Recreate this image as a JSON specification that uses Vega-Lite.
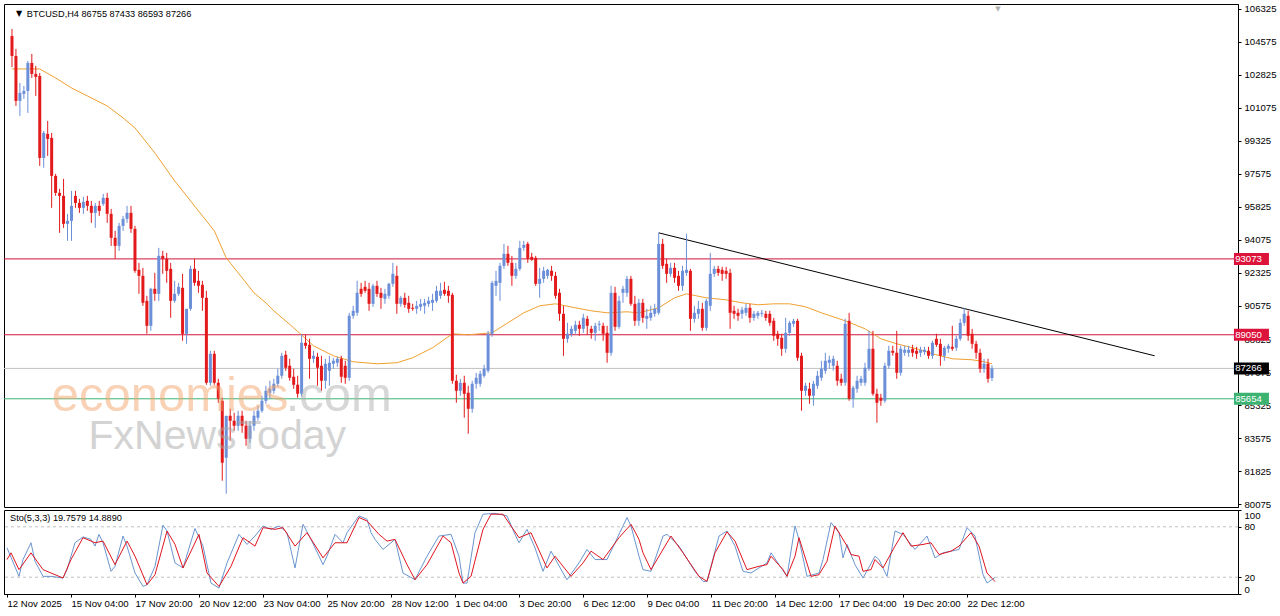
{
"$schema":"https://vega.github.io/schema/vega-lite/v6.json",
"background":"white",
"padding":{"left":3,"top":3,"right":0,"bottom":0},
"bounds":"flush",
"config":{"view":{"stroke":"#000","strokeWidth":1},"concat":{"spacing":3},
"axis":{"labelFont":"Liberation Sans","labelFontSize":9.6,"labelColor":"#000","domainColor":"#000","tickColor":"#000","grid":false,"title":null,"tickSize":3,"labelPadding":2,"labelOverlap":false},
"text":{"font":"Liberation Sans"}},
"datasets":{
"levels":[{"price":93073,"kind":"res"},{"price":89050,"kind":"res"},{"price":87266,"kind":"last"},{"price":85654,"kind":"sup"}],
"trend":[{"i":163,"p":94454},{"i":288,"p":87935}],
"ma":[{"i":0,"p":103146},{"i":7,"p":103146},{"i":11,"p":102669},{"i":15,"p":102139},{"i":19,"p":101715},{"i":24,"p":101185},{"i":28,"p":100549},{"i":31,"p":100019},{"i":36,"p":98694},{"i":41,"p":97210},{"i":47,"p":95620},{"i":51,"p":94560},{"i":54,"p":93129},{"i":58,"p":92069},{"i":61,"p":91274},{"i":64,"p":90744},{"i":66,"p":90320},{"i":71,"p":89419},{"i":76,"p":88465},{"i":81,"p":87935},{"i":86,"p":87617},{"i":92,"p":87511},{"i":97,"p":87564},{"i":101,"p":87829},{"i":106,"p":88359},{"i":111,"p":89101},{"i":115,"p":89048},{"i":121,"p":89154},{"i":125,"p":89684},{"i":129,"p":90214},{"i":133,"p":90585},{"i":137,"p":90691},{"i":142,"p":90479},{"i":146,"p":90320},{"i":150,"p":90214},{"i":155,"p":90267},{"i":158,"p":90214},{"i":163,"p":90479},{"i":167,"p":91009},{"i":170,"p":91221},{"i":175,"p":91009},{"i":180,"p":90903},{"i":184,"p":90744},{"i":188,"p":90638},{"i":192,"p":90691},{"i":196,"p":90691},{"i":200,"p":90532},{"i":204,"p":90214},{"i":210,"p":89790},{"i":215,"p":89366},{"i":219,"p":88836},{"i":223,"p":88571},{"i":228,"p":88306},{"i":232,"p":88041},{"i":237,"p":87776},{"i":242,"p":87723},{"i":245,"p":87617},{"i":247,"p":87511}],
"candles":[
{"i":0,"o":104895,"h":105266,"l":103252,"c":103835},{"i":1,"o":103835,"h":104206,"l":101185,"c":101450},{"i":2,"o":101450,"h":102404,"l":100655,"c":101874},{"i":3,"o":101821,"h":102245,"l":101556,"c":101980},{"i":4,"o":101980,"h":103570,"l":100814,"c":103464},{"i":5,"o":103464,"h":103941,"l":102669,"c":102881},{"i":6,"o":102881,"h":103305,"l":101715,"c":102722},{"i":7,"o":102775,"h":102934,"l":98005,"c":98429},{"i":8,"o":98429,"h":99860,"l":97899,"c":99754},{"i":9,"o":99701,"h":100390,"l":98535,"c":99436},
{"i":10,"o":99489,"h":99754,"l":95779,"c":97475},{"i":11,"o":97475,"h":97581,"l":96415,"c":96574},{"i":12,"o":96574,"h":96786,"l":94454,"c":96415},{"i":13,"o":96415,"h":97316,"l":94719,"c":94931},{"i":14,"o":94931,"h":95461,"l":94030,"c":95090},{"i":15,"o":95090,"h":96680,"l":94030,"c":95885},{"i":16,"o":96415,"h":96680,"l":95779,"c":96044},{"i":17,"o":96044,"h":96256,"l":95514,"c":95779},{"i":18,"o":95779,"h":96362,"l":95461,"c":96097},{"i":19,"o":96150,"h":96415,"l":95620,"c":95885},
{"i":20,"o":95885,"h":96150,"l":94984,"c":95514},{"i":21,"o":95514,"h":96044,"l":94719,"c":95885},{"i":22,"o":95885,"h":96150,"l":95355,"c":95620},{"i":23,"o":95991,"h":96521,"l":95885,"c":96309},{"i":24,"o":96309,"h":96574,"l":94984,"c":95461},{"i":25,"o":95461,"h":95726,"l":93765,"c":94189},{"i":26,"o":94189,"h":94560,"l":93076,"c":93765},{"i":27,"o":93765,"h":94984,"l":93500,"c":94825},{"i":28,"o":94825,"h":95355,"l":94560,"c":95196},{"i":29,"o":95196,"h":95885,"l":94984,"c":95514},
{"i":30,"o":95514,"h":95885,"l":94454,"c":94666},{"i":31,"o":94666,"h":94825,"l":92334,"c":92440},{"i":32,"o":92493,"h":92864,"l":91221,"c":92175},{"i":33,"o":92175,"h":92599,"l":90585,"c":90744},{"i":34,"o":90850,"h":91115,"l":89101,"c":89525},{"i":35,"o":89525,"h":91539,"l":89260,"c":91486},{"i":36,"o":91486,"h":92334,"l":90850,"c":91221},{"i":37,"o":91221,"h":93659,"l":90850,"c":93235},{"i":38,"o":93235,"h":93500,"l":92281,"c":93076},{"i":39,"o":93076,"h":93394,"l":91804,"c":92440},
{"i":40,"o":92546,"h":92864,"l":89949,"c":90850},{"i":41,"o":90850,"h":91910,"l":90744,"c":91221},{"i":42,"o":91221,"h":91804,"l":91115,"c":91592},{"i":43,"o":91539,"h":92281,"l":88730,"c":89101},{"i":44,"o":89101,"h":89896,"l":88571,"c":90426},{"i":45,"o":90426,"h":92705,"l":90320,"c":92546},{"i":46,"o":92546,"h":93076,"l":91645,"c":91804},{"i":47,"o":91910,"h":92440,"l":91274,"c":91645},{"i":48,"o":91698,"h":91910,"l":90320,"c":91009},{"i":49,"o":91009,"h":91380,"l":86398,"c":86504},
{"i":50,"o":86504,"h":88200,"l":86345,"c":88041},{"i":51,"o":88041,"h":88200,"l":86398,"c":86504},{"i":52,"o":86504,"h":86716,"l":85444,"c":85656},{"i":53,"o":85550,"h":85709,"l":81310,"c":82264},{"i":54,"o":82529,"h":82635,"l":80621,"c":84755},{"i":55,"o":84755,"h":85126,"l":83430,"c":84490},{"i":56,"o":84490,"h":84914,"l":83960,"c":84225},{"i":57,"o":84225,"h":85020,"l":83960,"c":84755},{"i":58,"o":84755,"h":85020,"l":83854,"c":84225},{"i":59,"o":84225,"h":84490,"l":83165,"c":83536},
{"i":60,"o":83536,"h":84490,"l":83324,"c":84225},{"i":61,"o":84225,"h":85020,"l":83960,"c":84755},{"i":62,"o":84649,"h":85285,"l":84490,"c":85020},{"i":63,"o":85020,"h":85815,"l":84914,"c":85550},{"i":64,"o":85550,"h":86345,"l":85391,"c":86080},{"i":65,"o":85974,"h":86610,"l":85656,"c":86186},{"i":66,"o":86080,"h":86716,"l":85921,"c":86451},{"i":67,"o":86451,"h":87246,"l":86292,"c":86875},{"i":68,"o":86875,"h":88094,"l":86716,"c":87935},{"i":69,"o":87988,"h":88200,"l":87140,"c":87299},
{"i":70,"o":87405,"h":87776,"l":86610,"c":86769},{"i":71,"o":86822,"h":87246,"l":86186,"c":86398},{"i":72,"o":86398,"h":86875,"l":85709,"c":85921},{"i":73,"o":85921,"h":89101,"l":85762,"c":88624},{"i":74,"o":88624,"h":89048,"l":88306,"c":88465},{"i":75,"o":88518,"h":88836,"l":86716,"c":87776},{"i":76,"o":87776,"h":88200,"l":87564,"c":87935},{"i":77,"o":87882,"h":88094,"l":86345,"c":87299},{"i":78,"o":87405,"h":87935,"l":86080,"c":86610},{"i":79,"o":86610,"h":87776,"l":86186,"c":87511},
{"i":80,"o":87140,"h":87935,"l":86345,"c":87564},{"i":81,"o":87511,"h":87829,"l":87246,"c":87670},{"i":82,"o":87564,"h":87882,"l":87352,"c":87776},{"i":83,"o":87776,"h":87935,"l":86504,"c":86822},{"i":84,"o":87405,"h":87670,"l":86451,"c":86769},{"i":85,"o":86769,"h":90214,"l":86610,"c":90055},{"i":86,"o":90055,"h":90585,"l":89896,"c":90320},{"i":87,"o":90214,"h":91910,"l":90055,"c":91274},{"i":88,"o":91486,"h":91804,"l":91062,"c":91221},{"i":89,"o":91592,"h":91910,"l":91274,"c":91380},
{"i":90,"o":91486,"h":91804,"l":90320,"c":90691},{"i":91,"o":90691,"h":91751,"l":90532,"c":91645},{"i":92,"o":91645,"h":91910,"l":91062,"c":91221},{"i":93,"o":91274,"h":91539,"l":90426,"c":91009},{"i":94,"o":90956,"h":91486,"l":90691,"c":91221},{"i":95,"o":91115,"h":91804,"l":90956,"c":91751},{"i":96,"o":91751,"h":92864,"l":91592,"c":92281},{"i":97,"o":92175,"h":92705,"l":90161,"c":90691},{"i":98,"o":90691,"h":91115,"l":90532,"c":91009},{"i":99,"o":91009,"h":91274,"l":90479,"c":90638},
{"i":100,"o":90744,"h":91115,"l":90214,"c":90426},{"i":101,"o":90479,"h":90691,"l":90320,"c":90426},{"i":102,"o":90426,"h":90850,"l":90161,"c":90585},{"i":103,"o":90532,"h":90956,"l":90320,"c":90691},{"i":104,"o":90585,"h":90956,"l":90161,"c":90744},{"i":105,"o":90691,"h":91062,"l":90532,"c":90850},{"i":106,"o":90744,"h":91221,"l":90320,"c":90903},{"i":107,"o":90850,"h":91645,"l":90744,"c":91380},{"i":108,"o":91115,"h":91804,"l":90956,"c":91380},{"i":109,"o":91433,"h":91857,"l":91115,"c":91221},
{"i":110,"o":91380,"h":91645,"l":90744,"c":91115},{"i":111,"o":91168,"h":91274,"l":86451,"c":86610},{"i":112,"o":86610,"h":86928,"l":85444,"c":86080},{"i":113,"o":86080,"h":86716,"l":85815,"c":86504},{"i":114,"o":86504,"h":86875,"l":84649,"c":85921},{"i":115,"o":85974,"h":86345,"l":83801,"c":85126},{"i":116,"o":85126,"h":86610,"l":84914,"c":86451},{"i":117,"o":86451,"h":87034,"l":86186,"c":86769},{"i":118,"o":86451,"h":87140,"l":86292,"c":86981},{"i":119,"o":86875,"h":87458,"l":86769,"c":87246},
{"i":120,"o":87140,"h":89260,"l":87034,"c":89101},{"i":121,"o":89101,"h":91910,"l":88942,"c":91804},{"i":122,"o":91645,"h":92440,"l":91115,"c":91910},{"i":123,"o":91804,"h":92864,"l":90850,"c":92705},{"i":124,"o":92705,"h":93871,"l":92546,"c":93341},{"i":125,"o":93341,"h":93765,"l":92705,"c":92864},{"i":126,"o":92864,"h":93235,"l":91645,"c":92175},{"i":127,"o":92175,"h":92864,"l":92016,"c":92546},{"i":128,"o":92546,"h":94030,"l":92440,"c":93659},{"i":129,"o":93659,"h":94030,"l":93500,"c":93818},
{"i":130,"o":93871,"h":93977,"l":92864,"c":93076},{"i":131,"o":93182,"h":93394,"l":92970,"c":93023},{"i":132,"o":93129,"h":93235,"l":91645,"c":91751},{"i":133,"o":91751,"h":92599,"l":91009,"c":92016},{"i":134,"o":92016,"h":92652,"l":91804,"c":92440},{"i":135,"o":92175,"h":92546,"l":92016,"c":92493},{"i":136,"o":92440,"h":92705,"l":91910,"c":92175},{"i":137,"o":92175,"h":92387,"l":90956,"c":91115},{"i":138,"o":91274,"h":91486,"l":89790,"c":90161},{"i":139,"o":90161,"h":90585,"l":87935,"c":88836},
{"i":140,"o":88836,"h":89684,"l":88624,"c":89101},{"i":141,"o":89101,"h":89525,"l":88942,"c":89366},{"i":142,"o":89260,"h":89790,"l":89101,"c":89578},{"i":143,"o":89578,"h":89790,"l":88995,"c":89366},{"i":144,"o":89366,"h":90161,"l":89154,"c":89949},{"i":145,"o":89896,"h":90055,"l":89048,"c":89525},{"i":146,"o":89366,"h":89525,"l":88836,"c":89154},{"i":147,"o":89154,"h":89684,"l":88730,"c":89525},{"i":148,"o":89578,"h":89790,"l":89260,"c":89631},{"i":149,"o":89525,"h":89684,"l":88730,"c":89101},
{"i":150,"o":89154,"h":89525,"l":87564,"c":88094},{"i":151,"o":88094,"h":91645,"l":87935,"c":91274},{"i":152,"o":91274,"h":91592,"l":89260,"c":89472},{"i":153,"o":89472,"h":91115,"l":89366,"c":90850},{"i":154,"o":91274,"h":91645,"l":90744,"c":91486},{"i":155,"o":91274,"h":92175,"l":91062,"c":92016},{"i":156,"o":92016,"h":92175,"l":90585,"c":90691},{"i":157,"o":90691,"h":91115,"l":89525,"c":89790},{"i":158,"o":89790,"h":90956,"l":89525,"c":90744},{"i":159,"o":90744,"h":90956,"l":89684,"c":89949},
{"i":160,"o":89896,"h":90426,"l":89366,"c":90055},{"i":161,"o":89949,"h":90585,"l":89790,"c":90214},{"i":162,"o":90161,"h":90691,"l":90002,"c":90426},{"i":163,"o":90214,"h":94454,"l":90108,"c":93871},{"i":164,"o":93871,"h":94136,"l":92546,"c":92705},{"i":165,"o":92811,"h":93076,"l":91804,"c":92281},{"i":166,"o":92281,"h":92864,"l":92122,"c":92599},{"i":167,"o":92599,"h":92864,"l":91804,"c":92069},{"i":168,"o":92175,"h":92440,"l":91380,"c":91645},{"i":169,"o":91645,"h":92705,"l":91380,"c":92440},
{"i":170,"o":92334,"h":94401,"l":92175,"c":92493},{"i":171,"o":92440,"h":92546,"l":89260,"c":89896},{"i":172,"o":89896,"h":90585,"l":89684,"c":90214},{"i":173,"o":90161,"h":90850,"l":89896,"c":90426},{"i":174,"o":90426,"h":90744,"l":89260,"c":89419},{"i":175,"o":89419,"h":90956,"l":89260,"c":90850},{"i":176,"o":90585,"h":93394,"l":90320,"c":92281},{"i":177,"o":92281,"h":92705,"l":92122,"c":92546},{"i":178,"o":92546,"h":92705,"l":92175,"c":92334},{"i":179,"o":92493,"h":92652,"l":91910,"c":92281},
{"i":180,"o":92440,"h":92652,"l":92016,"c":92281},{"i":181,"o":92334,"h":92546,"l":89366,"c":90214},{"i":182,"o":90320,"h":90585,"l":89896,"c":90161},{"i":183,"o":90214,"h":90426,"l":89790,"c":90055},{"i":184,"o":90161,"h":90532,"l":89896,"c":90373},{"i":185,"o":90214,"h":90691,"l":90055,"c":90479},{"i":186,"o":90479,"h":90691,"l":89684,"c":89949},{"i":187,"o":89949,"h":90320,"l":89790,"c":90161},{"i":188,"o":90055,"h":90320,"l":89896,"c":90214},{"i":189,"o":90161,"h":90373,"l":90002,"c":90214},
{"i":190,"o":90161,"h":90320,"l":89790,"c":89949},{"i":191,"o":90161,"h":90320,"l":89525,"c":89684},{"i":192,"o":89790,"h":89949,"l":88730,"c":88995},{"i":193,"o":89101,"h":89260,"l":88465,"c":88836},{"i":194,"o":88889,"h":89101,"l":87935,"c":88306},{"i":195,"o":88306,"h":89949,"l":88094,"c":89154},{"i":196,"o":89154,"h":89790,"l":88995,"c":89684},{"i":197,"o":89631,"h":89896,"l":89472,"c":89790},{"i":198,"o":89790,"h":89896,"l":87670,"c":87829},{"i":199,"o":87935,"h":88094,"l":85020,"c":86080},
{"i":200,"o":86080,"h":86504,"l":85815,"c":86345},{"i":201,"o":86186,"h":86504,"l":85391,"c":85815},{"i":202,"o":85815,"h":86610,"l":85285,"c":86451},{"i":203,"o":86345,"h":87140,"l":86186,"c":86875},{"i":204,"o":86769,"h":87670,"l":86610,"c":87246},{"i":205,"o":87140,"h":88094,"l":86981,"c":87670},{"i":206,"o":87564,"h":87935,"l":87246,"c":87723},{"i":207,"o":87405,"h":87935,"l":87140,"c":87776},{"i":208,"o":87405,"h":87670,"l":86345,"c":86610},{"i":209,"o":86716,"h":86981,"l":86345,"c":86504},
{"i":210,"o":86504,"h":89896,"l":86345,"c":89631},{"i":211,"o":89790,"h":90214,"l":85550,"c":85656},{"i":212,"o":85656,"h":86345,"l":85179,"c":86239},{"i":213,"o":86186,"h":86875,"l":85974,"c":86610},{"i":214,"o":86504,"h":86875,"l":86345,"c":86716},{"i":215,"o":86504,"h":87564,"l":86345,"c":87299},{"i":216,"o":87246,"h":89260,"l":87140,"c":88306},{"i":217,"o":88306,"h":89260,"l":85815,"c":85921},{"i":218,"o":85921,"h":86186,"l":84384,"c":85444},{"i":219,"o":85709,"h":85921,"l":85285,"c":85550},
{"i":220,"o":85550,"h":87564,"l":85444,"c":87405},{"i":221,"o":87405,"h":88465,"l":87246,"c":88200},{"i":222,"o":88200,"h":88465,"l":87935,"c":88094},{"i":223,"o":88094,"h":89260,"l":86716,"c":87034},{"i":224,"o":87034,"h":88465,"l":86875,"c":88306},{"i":225,"o":88094,"h":88465,"l":87935,"c":88253},{"i":226,"o":88094,"h":88465,"l":87882,"c":88253},{"i":227,"o":88306,"h":88518,"l":87882,"c":88094},{"i":228,"o":88200,"h":88412,"l":87776,"c":88041},{"i":229,"o":88094,"h":88412,"l":87882,"c":88253},
{"i":230,"o":88147,"h":88412,"l":87988,"c":88253},{"i":231,"o":88200,"h":88412,"l":87776,"c":87935},{"i":232,"o":87935,"h":88730,"l":87776,"c":88624},{"i":233,"o":88836,"h":89101,"l":88412,"c":88518},{"i":234,"o":88571,"h":88836,"l":87405,"c":87935},{"i":235,"o":87935,"h":88465,"l":87670,"c":88359},{"i":236,"o":88306,"h":88571,"l":88094,"c":88465},{"i":237,"o":88412,"h":89525,"l":88200,"c":88306},{"i":238,"o":88359,"h":88995,"l":88200,"c":88836},{"i":239,"o":88836,"h":89896,"l":88730,"c":89684},
{"i":240,"o":89684,"h":90479,"l":89525,"c":90161},{"i":241,"o":90055,"h":90320,"l":88730,"c":88995},{"i":242,"o":89101,"h":89366,"l":88306,"c":88571},{"i":243,"o":88571,"h":88730,"l":87776,"c":88094},{"i":244,"o":88094,"h":88306,"l":87034,"c":87246},{"i":245,"o":87246,"h":87776,"l":87034,"c":87511},{"i":246,"o":87511,"h":87776,"l":86504,"c":86716},{"i":247,"o":86755,"h":87433,"l":86593,"c":87266}],
"stoK":[{"i":0,"v":55},{"i":3,"v":21},{"i":4,"v":41},{"i":6,"v":61},{"i":7,"v":39},{"i":9,"v":21},{"i":11,"v":21},{"i":14,"v":19},{"i":15,"v":29},{"i":17,"v":61},{"i":19,"v":68},{"i":21,"v":65},{"i":22,"v":57},{"i":23,"v":71},{"i":24,"v":61},{"i":26,"v":27},{"i":27,"v":33},{"i":29,"v":69},{"i":30,"v":57},{"i":32,"v":25},{"i":34,"v":9},{"i":35,"v":11},{"i":37,"v":33},{"i":39,"v":82},{"i":40,"v":75},{"i":42,"v":37},{"i":44,"v":31},{"i":47,"v":78},{"i":49,"v":57},{"i":51,"v":13},{"i":53,"v":7},{"i":55,"v":37},{"i":58,"v":71},{"i":60,"v":59},{"i":62,"v":69},{"i":64,"v":81},{"i":66,"v":77},{"i":68,"v":81},{"i":70,"v":73},{"i":72,"v":31},{"i":74,"v":83},{"i":76,"v":65},{"i":79,"v":35},{"i":80,"v":45},{"i":82,"v":71},{"i":84,"v":61},{"i":85,"v":73},{"i":88,"v":93},{"i":90,"v":89},{"i":91,"v":73},{"i":92,"v":65},{"i":94,"v":53},{"i":97,"v":65},{"i":99,"v":25},{"i":102,"v":17},{"i":105,"v":45},{"i":108,"v":69},{"i":111,"v":71},{"i":113,"v":45},{"i":114,"v":13},{"i":115,"v":13},{"i":117,"v":73},{"i":119,"v":95},{"i":122,"v":96},{"i":125,"v":93},{"i":127,"v":71},{"i":128,"v":61},{"i":130,"v":77},{"i":132,"v":55},{"i":134,"v":27},{"i":136,"v":51},{"i":139,"v":25},{"i":140,"v":17},{"i":143,"v":37},{"i":145,"v":53},{"i":147,"v":41},{"i":150,"v":41},{"i":152,"v":61},{"i":155,"v":91},{"i":156,"v":81},{"i":158,"v":45},{"i":159,"v":29},{"i":161,"v":27},{"i":164,"v":69},{"i":165,"v":71},{"i":168,"v":57},{"i":172,"v":27},{"i":174,"v":15},{"i":175,"v":15},{"i":178,"v":69},{"i":180,"v":75},{"i":182,"v":57},{"i":184,"v":27},{"i":186,"v":25},{"i":188,"v":31},{"i":190,"v":37},{"i":191,"v":49},{"i":193,"v":35},{"i":195,"v":21},{"i":197,"v":81},{"i":198,"v":65},{"i":200,"v":21},{"i":203,"v":25},{"i":204,"v":41},{"i":206,"v":85},{"i":208,"v":73},{"i":209,"v":43},{"i":210,"v":59},{"i":212,"v":35},{"i":214,"v":19},{"i":217,"v":45},{"i":218,"v":41},{"i":220,"v":21},{"i":222,"v":75},{"i":224,"v":71},{"i":226,"v":59},{"i":227,"v":53},{"i":230,"v":69},{"i":232,"v":43},{"i":234,"v":49},{"i":236,"v":51},{"i":238,"v":53},{"i":240,"v":79},{"i":242,"v":69},{"i":244,"v":23},{"i":245,"v":13},{"i":247,"v":19.7579}],
"stoD":[{"i":0,"v":41},{"i":1,"v":49},{"i":3,"v":29},{"i":6,"v":49},{"i":9,"v":29},{"i":12,"v":23},{"i":14,"v":19},{"i":16,"v":41},{"i":19,"v":67},{"i":22,"v":61},{"i":24,"v":63},{"i":27,"v":35},{"i":30,"v":63},{"i":32,"v":45},{"i":35,"v":11},{"i":37,"v":23},{"i":40,"v":75},{"i":42,"v":59},{"i":44,"v":31},{"i":48,"v":71},{"i":50,"v":25},{"i":53,"v":9},{"i":56,"v":33},{"i":59,"v":67},{"i":62,"v":57},{"i":64,"v":79},{"i":67,"v":77},{"i":69,"v":79},{"i":72,"v":57},{"i":75,"v":73},{"i":79,"v":43},{"i":82,"v":61},{"i":85,"v":61},{"i":88,"v":91},{"i":90,"v":87},{"i":93,"v":71},{"i":95,"v":63},{"i":97,"v":65},{"i":100,"v":35},{"i":102,"v":17},{"i":105,"v":35},{"i":109,"v":69},{"i":111,"v":61},{"i":113,"v":25},{"i":114,"v":13},{"i":116,"v":21},{"i":119,"v":77},{"i":121,"v":95},{"i":124,"v":95},{"i":128,"v":67},{"i":131,"v":73},{"i":135,"v":31},{"i":137,"v":45},{"i":141,"v":21},{"i":144,"v":37},{"i":146,"v":51},{"i":149,"v":41},{"i":153,"v":67},{"i":156,"v":83},{"i":158,"v":65},{"i":159,"v":49},{"i":161,"v":29},{"i":163,"v":45},{"i":166,"v":69},{"i":169,"v":49},{"i":173,"v":21},{"i":175,"v":15},{"i":177,"v":49},{"i":180,"v":74},{"i":182,"v":63},{"i":185,"v":29},{"i":188,"v":33},{"i":190,"v":35},{"i":191,"v":45},{"i":194,"v":29},{"i":195,"v":21},{"i":197,"v":45},{"i":198,"v":67},{"i":201,"v":21},{"i":203,"v":23},{"i":205,"v":39},{"i":207,"v":81},{"i":210,"v":57},{"i":211,"v":47},{"i":213,"v":45},{"i":214,"v":27},{"i":216,"v":29},{"i":217,"v":41},{"i":219,"v":31},{"i":222,"v":57},{"i":224,"v":73},{"i":226,"v":57},{"i":229,"v":59},{"i":231,"v":61},{"i":233,"v":47},{"i":236,"v":51},{"i":238,"v":57},{"i":241,"v":73},{"i":243,"v":57},{"i":245,"v":25},{"i":247,"v":14.889}],
"stolev":[{"lvl":20},{"lvl":80}]
},
"vconcat":[
{"width":1234,"height":503,
"resolve":{"axis":{"x":"independent","y":"independent"}},
"layer":[
{"data":{"name":"levels"},"mark":{"type":"rule","strokeWidth":1},
 "encoding":{"y":{"field":"price","type":"quantitative","scale":{"domain":[79916,106590],"nice":false,"zero":false},
   "axis":{"orient":"right","values":[80075,81825,83575,85325,87075,88825,90575,92325,94075,95825,97575,99325,101075,102825,104575,106325],"format":"d","labelPadding":3,"labelOverlap":false,"labelBound":false}},
  "color":{"condition":[{"test":"datum.kind==='res'","value":"#d0143c"},{"test":"datum.kind==='sup'","value":"#3cb371"}],"value":"#c0c0c0"}}},
{"data":{"name":"trend"},"mark":{"type":"line","color":"#000","strokeWidth":1},
 "encoding":{"x":{"field":"i","type":"quantitative","scale":{"domain":[-0.75,307.75],"nice":false,"zero":false},"axis":null},"y":{"field":"p","type":"quantitative","axis":null}}},
{"data":{"name":"ma"},"mark":{"type":"line","color":"#f0a030","strokeWidth":1},
 "encoding":{"x":{"field":"i","type":"quantitative","axis":null},"y":{"field":"p","type":"quantitative","axis":null}}},
{"data":{"name":"candles"},"mark":{"type":"rule","strokeWidth":1},
 "encoding":{"x":{"field":"i","type":"quantitative","axis":null},"y":{"field":"l","type":"quantitative","axis":null},"y2":{"field":"h"},
  "color":{"condition":{"test":"datum.c < datum.o","value":"#e31a1c"},"value":"#6b8fd8"}}},
{"data":{"name":"candles"},"mark":{"type":"bar","size":3},
 "encoding":{"x":{"field":"i","type":"quantitative","axis":null},"y":{"field":"o","type":"quantitative","axis":null},"y2":{"field":"c"},
  "color":{"condition":{"test":"datum.c < datum.o","value":"#e31a1c"},"value":"#6b8fd8"}}},
{"data":{"name":"levels"},"mark":{"type":"tick","orient":"horizontal","size":35,"thickness":12,"opacity":1},
 "encoding":{"x":{"datum":312.4,"type":"quantitative","axis":null},"y":{"field":"price","type":"quantitative","axis":null},
  "color":{"condition":[{"test":"datum.kind==='res'","value":"#dc143c"},{"test":"datum.kind==='sup'","value":"#3cb371"}],"value":"#000"}}},
{"data":{"name":"levels"},"mark":{"type":"text","align":"left","baseline":"middle","fontSize":9.6,"color":"#fff"},
 "encoding":{"x":{"datum":308.3,"type":"quantitative","axis":null},"y":{"field":"price","type":"quantitative","axis":null},"text":{"field":"price","type":"quantitative","format":"d"}}},
{"data":{"values":[{"t":"economies"}]},"mark":{"type":"text","align":"left","baseline":"alphabetic","fontSize":49,"color":"#f4a46e","opacity":0.5},
 "encoding":{"x":{"datum":10,"type":"quantitative","axis":null},"y":{"datum":85007,"type":"quantitative","axis":null},"text":{"field":"t"}}},
{"data":{"values":[{"t":".com"}]},"mark":{"type":"text","align":"left","baseline":"alphabetic","fontSize":49,"color":"#b0b0b0","opacity":0.5},
 "encoding":{"x":{"datum":69,"type":"quantitative","axis":null},"y":{"datum":85007,"type":"quantitative","axis":null},"text":{"field":"t"}}},
{"data":{"values":[{"t":"FxNewsToday"}]},"mark":{"type":"text","align":"left","baseline":"alphabetic","fontSize":41,"color":"#a8a8a8","opacity":0.5},
 "encoding":{"x":{"datum":19.3,"type":"quantitative","axis":null},"y":{"datum":82992,"type":"quantitative","axis":null},"text":{"field":"t"}}},
{"data":{"values":[{"t":"▼"}]},"mark":{"type":"text","align":"left","baseline":"middle","fontSize":8,"color":"#000","font":"DejaVu Sans"},
 "encoding":{"x":{"datum":1.0,"type":"quantitative","axis":null},"y":{"datum":106060,"type":"quantitative","axis":null},"text":{"field":"t"}}},
{"data":{"values":[{"t":"BTCUSD,H4  86755 87433 86593 87266"}]},"mark":{"type":"text","align":"left","baseline":"middle","fontSize":9.2,"color":"#000"},
 "encoding":{"x":{"datum":3.75,"type":"quantitative","axis":null},"y":{"datum":106060,"type":"quantitative","axis":null},"text":{"field":"t"}}},
{"data":{"values":[{"t":"▼"}]},"mark":{"type":"text","align":"center","baseline":"middle","fontSize":7,"color":"#b0b0b0","font":"DejaVu Sans"},
 "encoding":{"x":{"datum":248.5,"type":"quantitative","axis":null},"y":{"datum":106325,"type":"quantitative","axis":null},"text":{"field":"t"}}}
]},
{"width":1234,"height":84,
"resolve":{"axis":{"x":"independent","y":"independent"}},
"layer":[
{"data":{"name":"stolev"},"mark":{"type":"rule","color":"#c0c0c0","strokeDash":[3,3],"strokeWidth":1},
 "encoding":{"y":{"field":"lvl","type":"quantitative","scale":{"domain":[0,100],"nice":false},"axis":{"orient":"right","values":[0,20,80,100],"labelFlush":true,"labelPadding":3,"labelOverlap":false}}}},
{"data":{"name":"stoK"},"mark":{"type":"line","color":"#6a95d0","strokeWidth":1},
 "encoding":{"x":{"field":"i","type":"quantitative","scale":{"domain":[-0.75,307.75],"nice":false,"zero":false},
   "axis":{"values":[0,16,32,48,64,80,96,112,128,144,160,176,192,208,224,240],"labelAlign":"left","labelOverlap":false,"labelBound":false,"labelFlush":false,"labelPadding":1,
   "labelExpr":"['12 Nov 2025','15 Nov 04:00','17 Nov 20:00','20 Nov 12:00','23 Nov 04:00','25 Nov 20:00','28 Nov 12:00','1 Dec 04:00','3 Dec 20:00','6 Dec 12:00','9 Dec 04:00','11 Dec 20:00','14 Dec 12:00','17 Dec 04:00','19 Dec 20:00','22 Dec 12:00'][round(datum.value/16)]"}},
  "y":{"field":"v","type":"quantitative","axis":null}}},
{"data":{"name":"stoD"},"mark":{"type":"line","color":"#e0151f","strokeWidth":1},
 "encoding":{"x":{"field":"i","type":"quantitative","axis":null},"y":{"field":"v","type":"quantitative","axis":null}}},
{"data":{"values":[{"t":"Sto(5,3,3) 19.7579 14.8890"}]},"mark":{"type":"text","align":"left","baseline":"middle","fontSize":9.2,"color":"#000"},
 "encoding":{"x":{"datum":0.75,"type":"quantitative","axis":null},"y":{"datum":91,"type":"quantitative","axis":null},"text":{"field":"t"}}}
]}
]
}
